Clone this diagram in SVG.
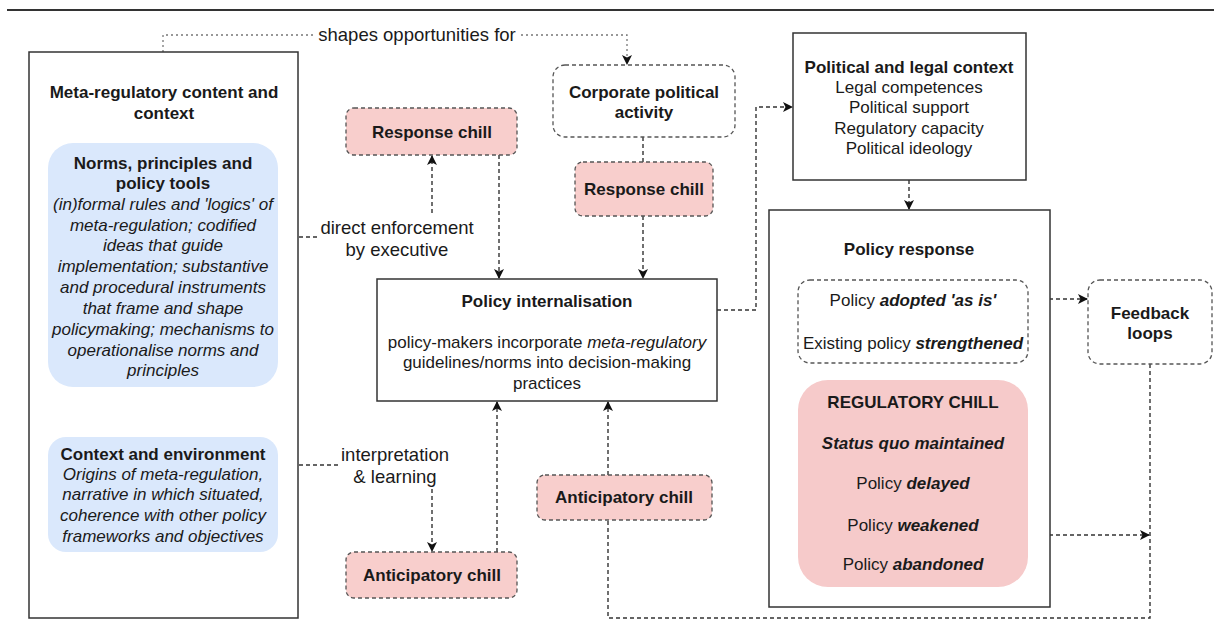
<svg xmlns="http://www.w3.org/2000/svg" width="1214" height="637" viewBox="0 0 1214 637">
<style>
text{font-family:"Liberation Sans",Arial,sans-serif;font-size:17px;fill:#1a1a1a;text-anchor:middle}
.lbl{font-size:18.5px}
.b{font-weight:bold}
.i{font-style:italic}
.bi{font-weight:bold;font-style:italic}
.solid{fill:#fff;stroke:#333;stroke-width:1.5}
.blue{fill:#dae8fc;stroke:none}
.pinkd{fill:#f8cecc;stroke:#555;stroke-width:1.3;stroke-dasharray:4 3}
.pink{fill:#f6caca;stroke:none}
.dbox{fill:#fff;stroke:#555;stroke-width:1.3;stroke-dasharray:4 3}
.c{fill:none;stroke:#333;stroke-width:1.4;stroke-dasharray:4 3}
.dot{fill:none;stroke:#777;stroke-width:1.3;stroke-dasharray:2 3}
</style>
<defs>
<marker id="ah" viewBox="0 0 10 10" refX="9" refY="5" markerWidth="10" markerHeight="10" markerUnits="userSpaceOnUse" orient="auto">
<path d="M0,0 L10,5 L0,10 L2.5,5 z" fill="#111"/>
</marker>
</defs>
<line x1="7" y1="10" x2="1214" y2="10" stroke="#333" stroke-width="2"/>

<g id="connectors">
<path class="dot" d="M163,52 V35 H314"/>
<path class="dot" d="M521,35 H627 V64" marker-end="url(#ah)"/>
<text class="lbl" x="417" y="41">shapes opportunities for</text>
<path class="c" d="M278,237 H319"/>
<text class="lbl" x="397" y="234">direct enforcement</text>
<text class="lbl" x="397" y="256">by executive</text>
<path class="c" d="M432,213 V156" marker-end="url(#ah)"/>
<path class="c" d="M499,155 V278" marker-end="url(#ah)"/>
<path class="c" d="M643,137 V162"/>
<path class="c" d="M643,216 V278" marker-end="url(#ah)"/>
<path class="c" d="M717,310 H756 V107 H792" marker-end="url(#ah)"/>
<path class="c" d="M909,180 V209" marker-end="url(#ah)"/>
<path class="c" d="M1028,299 H1087" marker-end="url(#ah)"/>
<path class="c" d="M1028,535 H1149" marker-end="url(#ah)"/>
<path class="c" d="M1150,364 V618 H608 V520"/>
<path class="c" d="M608,475 V402" marker-end="url(#ah)"/>
<path class="c" d="M278,465 H338"/>
<text class="lbl" x="395" y="461">interpretation</text>
<text class="lbl" x="395" y="483">&amp; learning</text>
<path class="c" d="M432,489 V551" marker-end="url(#ah)"/>
<path class="c" d="M497,552 V402" marker-end="url(#ah)"/>
</g>

<g id="meta-regulatory">
<rect class="solid" x="29" y="52" width="269" height="566"/>
<text class="b" x="164" y="98">Meta-regulatory content and</text>
<text class="b" x="164" y="119">context</text>
</g>

<g id="norms">
<rect class="blue" x="48" y="143" width="230" height="244" rx="25"/>
<text class="b" x="163" y="169">Norms, principles and</text>
<text class="b" x="163" y="189">policy tools</text>
<text class="i" x="163" y="210">(in)formal rules and 'logics' of</text>
<text class="i" x="163" y="231">meta-regulation; codified</text>
<text class="i" x="163" y="251">ideas that guide</text>
<text class="i" x="163" y="272">implementation; substantive</text>
<text class="i" x="163" y="293">and procedural instruments</text>
<text class="i" x="163" y="314">that frame and shape</text>
<text class="i" x="163" y="335">policymaking; mechanisms to</text>
<text class="i" x="163" y="356">operationalise norms and</text>
<text class="i" x="163" y="376">principles</text>
</g>

<g id="context">
<rect class="blue" x="48" y="437" width="230" height="115" rx="18"/>
<text class="b" x="163" y="460">Context and environment</text>
<text class="i" x="163" y="480">Origins of meta-regulation,</text>
<text class="i" x="163" y="500">narrative in which situated,</text>
<text class="i" x="163" y="521">coherence with other policy</text>
<text class="i" x="163" y="542">frameworks and objectives</text>
</g>

<g id="response-chill-1">
<rect class="pinkd" x="346" y="108" width="171" height="47" rx="8"/>
<text class="b" x="432" y="138">Response chill</text>
</g>

<g id="corporate">
<rect class="dbox" x="553" y="65" width="182" height="72" rx="12"/>
<text class="b" x="644" y="98">Corporate political</text>
<text class="b" x="644" y="118">activity</text>
</g>

<g id="response-chill-2">
<rect class="pinkd" x="575" y="162" width="138" height="54" rx="8"/>
<text class="b" x="644" y="195">Response chill</text>
</g>

<g id="policy-internalisation">
<rect class="solid" x="377" y="279" width="340" height="122"/>
<text class="b" x="547" y="307">Policy internalisation</text>
<text x="547" y="348">policy-makers incorporate <tspan class="i">meta-regulatory</tspan></text>
<text x="547" y="368">guidelines/norms into decision-making</text>
<text x="547" y="389">practices</text>
</g>

<g id="political-legal">
<rect class="solid" x="793" y="33" width="233" height="147"/>
<text class="b" x="909" y="73">Political and legal context</text>
<text x="909" y="93">Legal competences</text>
<text x="909" y="113">Political support</text>
<text x="909" y="134">Regulatory capacity</text>
<text x="909" y="154">Political ideology</text>
</g>

<g id="policy-response">
<rect class="solid" x="769" y="210" width="281" height="397"/>
<text class="b" x="909" y="255">Policy response</text>
</g>

<g id="adopted">
<rect class="dbox" x="798" y="280" width="230" height="83" rx="12"/>
<text x="913" y="306">Policy <tspan class="bi">adopted 'as is'</tspan></text>
<text x="913" y="349">Existing policy <tspan class="bi">strengthened</tspan></text>
</g>

<g id="regulatory-chill">
<rect class="pink" x="798" y="380" width="230" height="207" rx="30"/>
<text class="b" x="913" y="408">REGULATORY CHILL</text>
<text class="bi" x="913" y="449">Status quo maintained</text>
<text x="913" y="489">Policy <tspan class="bi">delayed</tspan></text>
<text x="913" y="531">Policy <tspan class="bi">weakened</tspan></text>
<text x="913" y="570">Policy <tspan class="bi">abandoned</tspan></text>
</g>

<g id="feedback">
<rect class="dbox" x="1088" y="280" width="124" height="84" rx="12"/>
<text class="b" x="1150" y="319">Feedback</text>
<text class="b" x="1150" y="339">loops</text>
</g>

<g id="anticipatory-chill-1">
<rect class="pinkd" x="346" y="552" width="171" height="46" rx="8"/>
<text class="b" x="432" y="581">Anticipatory chill</text>
</g>

<g id="anticipatory-chill-2">
<rect class="pinkd" x="537" y="475" width="175" height="45" rx="8"/>
<text class="b" x="624" y="503">Anticipatory chill</text>
</g>
</svg>
